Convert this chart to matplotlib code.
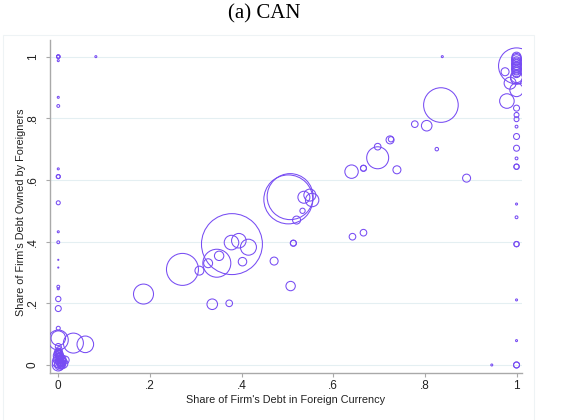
import numpy as np
import matplotlib.pyplot as plt
from matplotlib.patches import Rectangle

# share of firm's debt in foreign currency / owned by foreigners / weight (~ bubble area)
fx_share = [
    # middle of the cloud
    0.379, 0.271, 0.346, 0.308, 0.327, 0.351, 0.378, 0.394, 0.415, 0.402,
    0.336, 0.373, 0.471, 0.513, 0.513, 0.507, 0.502, 0.506, 0.536, 0.554,
    0.549, 0.533, 0.520, 0.640, 0.666, 0.666, 0.697, 0.697, 0.724, 0.726,
    0.739, 0.642, 0.666, 0.835, 0.778, 0.804, 0.826, 0.891, 0.838, 0.186,
    0.946, 0.082,
    # all debt in foreign currency
    1.0, 0.975, 0.979, 1.0, 1.0, 1.0, 0.986, 1.0, 1.0, 1.0,
    1.0, 1.0, 1.0, 1.0, 1.0, 1.0, 1.0, 1.0, 1.0, 1.0,
    1.0, 1.0, 1.0, 1.0,
    1.0, 1.0, 1.0, 1.0, 1.0, 1.0, 1.0, 1.0, 1.0, 1.0, 1.0, 1.0,
    # no debt in foreign currency
    0.0, 0.0, 0.0, 0.0, 0.0, 0.0, 0.0, 0.0, 0.0, 0.0,
    0.0, 0.0, 0.0, 0.0, 0.0, 0.0, 0.0, 0.0, 0.0, 0.0,
    0.0, 0.033, 0.059, 0.015,
    0.0, 0.003, 0.0, 0.005, 0.0, 0.004, 0.0, 0.002, 0.0, 0.006,
    0.008, 0.010, 0.0, 0.002, 0.0, 0.003, 0.007,
    0.001, 0.004, 0.006, 0.009, 0.012, 0.002, 0.005, 0.0, 0.007, 0.011,
    0.003, 0.001, 0.008, 0.004,
]
foreign_owned = [
    0.392, 0.310, 0.330, 0.306, 0.330, 0.354, 0.397, 0.403, 0.382, 0.335,
    0.197, 0.200, 0.337, 0.395, 0.395, 0.256, 0.537, 0.546, 0.544, 0.535,
    0.551, 0.500, 0.470, 0.627, 0.638, 0.638, 0.672, 0.708, 0.730, 0.732,
    0.633, 0.416, 0.429, 0.843, 0.781, 0.776, 0.700, 0.606, 1.000, 0.230,
    0.000, 1.000,
    0.970, 0.951, 0.856, 0.892, 0.935, 0.930, 0.914, 0.833, 0.811, 0.797,
    0.773, 0.741, 0.703, 0.670, 0.643, 0.643, 0.522, 0.479, 0.392, 0.392,
    0.211, 0.079, 0.000, 0.000,
    1.000, 0.995, 0.990, 0.985, 0.980, 0.975, 0.970, 0.965, 0.960, 0.955, 0.950, 0.945,
    1.000, 1.000, 1.000, 0.987, 0.868, 0.840, 0.636, 0.611, 0.611, 0.526,
    0.432, 0.398, 0.341, 0.316, 0.254, 0.247, 0.214, 0.183, 0.119, 0.087,
    0.081, 0.071, 0.067, 0.016,
    0.000, 0.005, 0.010, 0.015, 0.020, 0.025, 0.030, 0.035, 0.040, 0.010,
    0.020, 0.005, 0.045, 0.050, 0.060, 0.000, 0.000,
    0.002, 0.008, 0.003, 0.012, 0.008, 0.018, 0.022, 0.028, 0.030, 0.015,
    0.012, 0.038, 0.002, 0.043,
]
weight = [
    930, 256, 196, 20, 20, 22, 53, 53, 64, 18,
    28, 11, 16, 9, 9, 22, 600, 530, 36, 45,
    36, 7, 16, 45, 9, 9, 121, 11, 16, 7,
    16, 11, 11, 300, 11, 28, 3, 16, 1, 100,
    1, 1,
    324, 16, 53, 45, 36, 36, 36, 9, 6, 6,
    2, 9, 9, 2, 7, 7, 1, 2, 7, 7,
    1, 1, 9, 9,
    20, 22, 25, 20, 22, 25, 20, 22, 25, 20, 22, 16,
    3, 3, 3, 1, 1, 2, 1, 4, 4, 4,
    1, 2, 0.3, 0.3, 2, 1, 7, 9, 4, 53,
    100, 100, 69, 16,
    36, 25, 36, 25, 25, 16, 25, 16, 16, 25,
    16, 25, 9, 9, 9, 25, 16,
    4, 9, 6, 16, 4, 9, 4, 9, 4, 6,
    2, 6, 1, 4,
]

xticks = [0, 0.2, 0.4, 0.6, 0.8, 1]
tick_labels = ["0", ".2", ".4", ".6", ".8", "1"]

purple = "#774CF3"

fig = plt.figure(figsize=(5.81, 4.2), dpi=100)
ax = fig.add_axes([0.0861, 0.1119, 0.8124, 0.7929])

sizes = 2.07 * np.array(weight)
ax.scatter(fx_share, foreign_owned, s=sizes, facecolors="none",
           edgecolors=purple, linewidths=0.75, zorder=3)

ax.set_xlim(-0.018, 1.012)
ax.set_ylim(-0.026, 1.054)
ax.set_xticks(xticks)
ax.set_xticklabels(tick_labels)
ax.set_yticks(xticks)
ax.set_yticklabels(tick_labels, rotation=90, va="center")

ax.grid(axis="y", color="#E4EFF2", linewidth=0.8, zorder=0)
ax.set_axisbelow(True)
for side in ["top", "right"]:
    ax.spines[side].set_visible(False)
for side in ["left", "bottom"]:
    ax.spines[side].set_color("#A9A9A9")
    ax.spines[side].set_linewidth(1.0)
ax.tick_params(axis="both", direction="out", length=3, width=0.8,
               color="#A9A9A9", labelsize=8.5, labelcolor="#222222")
ax.tick_params(axis="x", pad=2)
ax.tick_params(axis="y", pad=5)

ax.set_xlabel("Share of Firm's Debt in Foreign Currency", fontsize=7.8,
              family="Liberation Sans", color="#222222")
ax.set_ylabel("Share of Firm's Debt Owned by Foreigners", fontsize=7.8,
              family="Liberation Sans", color="#222222")
ax.xaxis.set_label_coords(0.5, -0.066)
ax.yaxis.set_label_coords(-0.051, 0.482)
for lab in ax.get_xticklabels() + ax.get_yticklabels():
    lab.set_family("Liberation Sans")

# faint outer plot-region frame
fig.add_artist(Rectangle((3 / 581, -0.02), 531 / 581, 1.02 - 35 / 420,
                         transform=fig.transFigure, fill=False,
                         edgecolor="#EEF3F5", linewidth=0.8))

fig.text(264 / 581, 1 - 14 / 420, "(a) CAN", ha="center", va="center",
         fontsize=15, family="Liberation Serif")

fig.savefig("out.png", dpi=100)
